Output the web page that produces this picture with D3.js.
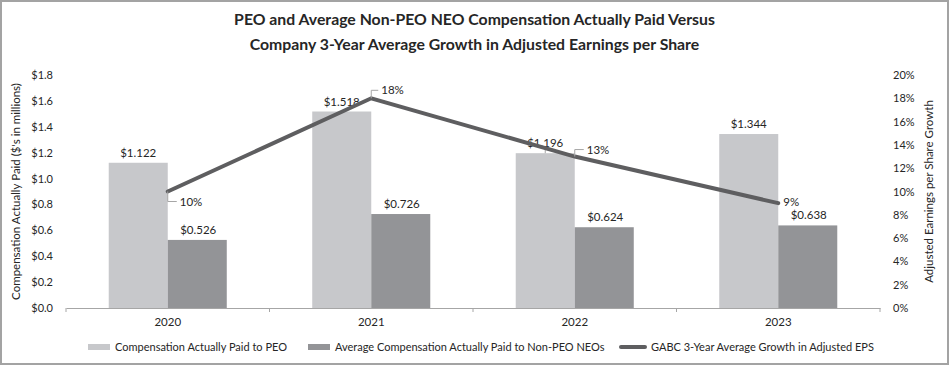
<!DOCTYPE html>
<html>
<head>
<meta charset="utf-8">
<script src="https://cdn.jsdelivr.net/npm/d3@7"></script>
<style>
  body { margin: 0; background: #fff; }
  svg text { font-family: Lato, "Open Sans", sans-serif; fill: #262626; }
</style>
</head>
<body>
<div id="chart"></div>
<script>
// data
const years = ["2020", "2021", "2022", "2023"];
const peoPaid = [1.122, 1.518, 1.196, 1.344];
const neoPaid = [0.526, 0.726, 0.624, 0.638];
const epsGrowth = [10, 18, 13, 9];
const leftTicks = [0, 0.2, 0.4, 0.6, 0.8, 1.0, 1.2, 1.4, 1.6, 1.8];
const rightTicks = [0, 2, 4, 6, 8, 10, 12, 14, 16, 18, 20];
const seriesNames = ["Compensation Actually Paid to PEO",
  "Average Compensation Actually Paid to Non-PEO NEOs",
  "GABC 3-Year Average Growth in Adjusted EPS"];

const W = 949, H = 365;
const margin = { top: 75, right: 69, bottom: 57, left: 66 };
const c1 = "#c7c8cb", c2 = "#939497", cLine = "#5e5e60";

const svg = d3.select("#chart").append("svg")
  .attr("width", W).attr("height", H);

// frame
svg.append("rect").attr("x", 1).attr("y", 1).attr("width", W - 2).attr("height", H - 2)
  .attr("fill", "none").attr("stroke", "#a3a3a3").attr("stroke-width", 2);

// title
const title = svg.append("text").attr("text-anchor", "middle")
  .style("font-size", "15.8px").style("font-weight", "bold");
title.append("tspan").attr("x", W / 2).attr("y", 25)
  .text("PEO and Average Non-PEO NEO Compensation Actually Paid Versus");
title.append("tspan").attr("x", W / 2).attr("y", 50)
  .text("Company 3-Year Average Growth in Adjusted Earnings per Share");

const x = d3.scaleBand().domain(years).range([margin.left, W - margin.right]);
const y = d3.scaleLinear().domain([0, 1.8]).range([H - margin.bottom, margin.top]);
const y2 = d3.scaleLinear().domain([0, 20]).range([H - margin.bottom, margin.top]);
const bw = x.bandwidth() * 0.29;

// left axis
const gl = svg.append("g").attr("transform", "translate(53,0)")
  .call(d3.axisLeft(y).tickValues(leftTicks).tickSize(0).tickPadding(0).tickFormat(d => "$" + d3.format(".1f")(d)));
gl.select(".domain").remove();
gl.selectAll("text").style("font-size", "11px");

// right axis
const gr = svg.append("g").attr("transform", "translate(893,0)")
  .call(d3.axisRight(y2).tickValues(rightTicks).tickSize(0).tickPadding(0).tickFormat(d => d + "%"));
gr.select(".domain").remove();
gr.selectAll("text").style("font-size", "11px");

// axis titles
svg.append("text").attr("transform", "translate(20," + ((margin.top + H - margin.bottom) / 2) + ") rotate(-90)")
  .attr("text-anchor", "middle").style("font-size", "11.5px")
  .text("Compensation Actually Paid ($'s in millions)");
svg.append("text").attr("transform", "translate(933," + ((margin.top + H - margin.bottom) / 2) + ") rotate(-90)")
  .attr("text-anchor", "middle").style("font-size", "11.5px")
  .text("Adjusted Earnings per Share Growth");

// bars
svg.selectAll(".peo").data(years).enter().append("rect")
  .attr("x", (d) => x(d) + x.bandwidth() / 2 - bw)
  .attr("y", (d, i) => y(peoPaid[i]))
  .attr("width", bw)
  .attr("height", (d, i) => y(0) - y(peoPaid[i]))
  .attr("fill", c1);
svg.selectAll(".neo").data(years).enter().append("rect")
  .attr("x", (d) => x(d) + x.bandwidth() / 2)
  .attr("y", (d, i) => y(neoPaid[i]))
  .attr("width", bw)
  .attr("height", (d, i) => y(0) - y(neoPaid[i]))
  .attr("fill", c2);

// bottom axis
const gb = svg.append("g").attr("transform", "translate(0," + y(0) + ")")
  .call(d3.axisBottom(x).tickSize(0).tickPadding(10));
gb.select(".domain").attr("stroke", "#a6a6a6");
gb.selectAll("text").style("font-size", "11.5px");
gb.selectAll(".sep").data(years.concat(["end"])).enter().append("line")
  .attr("x1", (d, i) => i < years.length ? x(d) : x.range()[1])
  .attr("x2", (d, i) => i < years.length ? x(d) : x.range()[1])
  .attr("y1", 0).attr("y2", 4).attr("stroke", "#a6a6a6");

// bar labels
svg.selectAll(".lp").data(years).enter().append("text")
  .attr("x", (d) => x(d) + x.bandwidth() / 2 - bw / 2)
  .attr("y", (d, i) => y(peoPaid[i]) - 6)
  .attr("text-anchor", "middle").style("font-size", "11.5px")
  .text((d, i) => "$" + d3.format(".3f")(peoPaid[i]));
svg.selectAll(".ln").data(years).enter().append("text")
  .attr("x", (d, i) => x(d) + x.bandwidth() / 2 + bw / 2 + 1)
  .attr("y", (d, i) => y(neoPaid[i]) - 6)
  .attr("text-anchor", "middle").style("font-size", "11.5px")
  .text((d, i) => "$" + d3.format(".3f")(neoPaid[i]));

// leader from the 2022 PEO label down to its bar
const x22 = x("2022") + x.bandwidth() / 2 - bw / 2;
svg.append("line").attr("x1", x22).attr("x2", x22)
  .attr("y1", y(peoPaid[2]) - 5).attr("y2", y(peoPaid[2]))
  .attr("stroke", "#a6a6a6");

// line
const line = d3.line().x((d, i) => x(years[i]) + x.bandwidth() / 2).y(d => y2(d));
svg.append("path").datum(epsGrowth).attr("d", line)
  .attr("fill", "none").attr("stroke", cLine).attr("stroke-width", 4).attr("stroke-linecap", "round");

// line labels with leader offsets
const off = [[12, 10], [10, -8], [12, -7], [5, -1]];
years.forEach((yr, i) => {
  const px = x(yr) + x.bandwidth() / 2, py = y2(epsGrowth[i]);
  const o = off[i];
  if (i !== 3) {
    svg.append("path")
      .attr("d", "M" + px + "," + py + " L" + px + "," + (py + o[1]) + " L" + (px + o[0] - 3) + "," + (py + o[1]))
      .attr("fill", "none").attr("stroke", "#a6a6a6").attr("stroke-width", 1);
  }
  svg.append("text").attr("x", px + o[0]).attr("y", py + o[1] + 4)
    .style("font-size", "11.5px").text(epsGrowth[i] + "%");
});

// legend
const ly = 347;
const leg = [[88, 0], [308, 1], [621, 2]];
leg.forEach(([lx, k]) => {
  if (k < 2) {
    svg.append("rect").attr("x", lx).attr("y", ly - 3).attr("width", 22).attr("height", 6)
      .attr("fill", k === 0 ? c1 : c2);
  } else {
    svg.append("line").attr("x1", lx).attr("x2", lx + 24).attr("y1", ly).attr("y2", ly)
      .attr("stroke", cLine).attr("stroke-width", 4).attr("stroke-linecap", "round");
  }
  svg.append("text").attr("x", lx + (k < 2 ? 27 : 30)).attr("y", ly + 4)
    .style("font-size", "11px").text(seriesNames[k]);
});
</script>
</body>
</html>
